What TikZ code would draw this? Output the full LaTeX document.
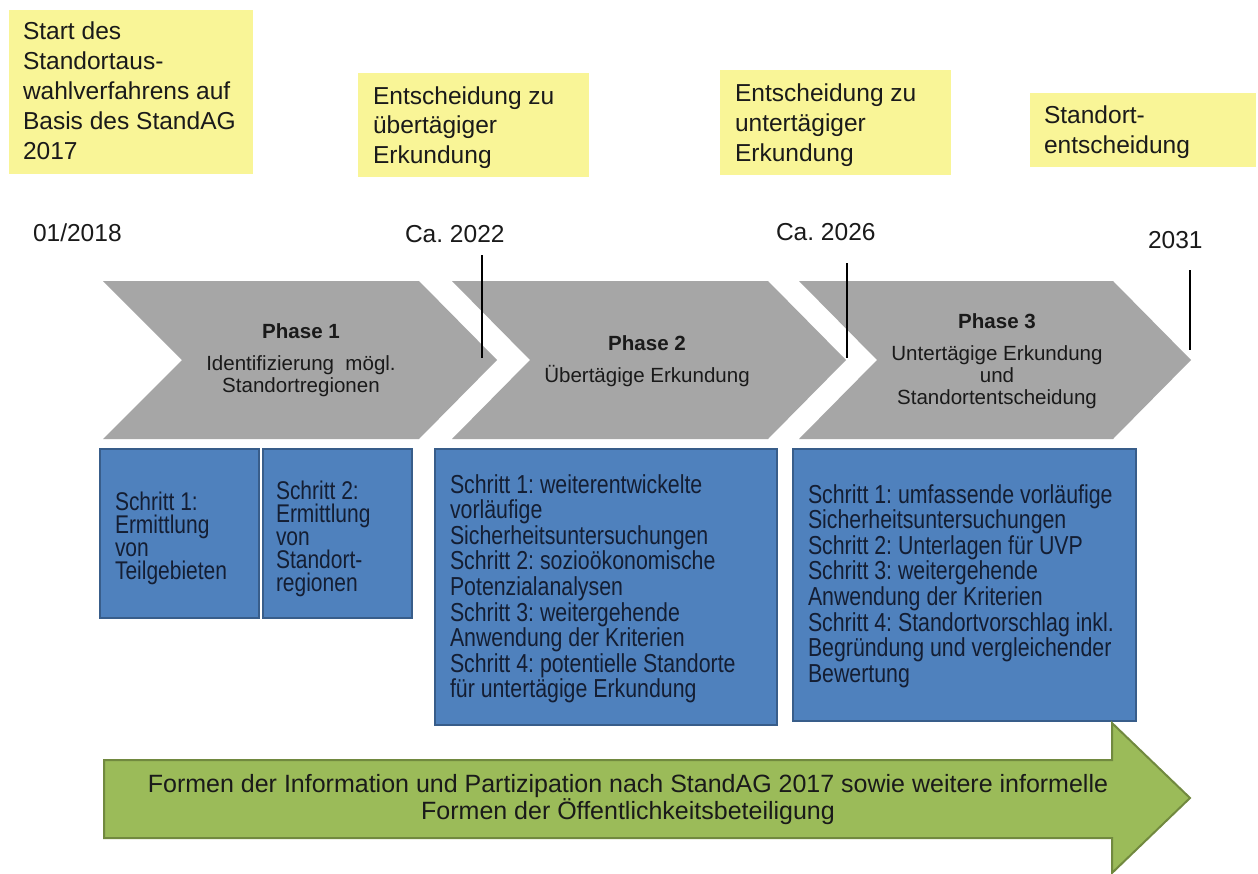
\documentclass[tikz,border=0pt]{standalone}
\usepackage{fontspec}
\setmainfont{Liberation Sans}
\newfontfamily\narrowfont[FakeStretch=0.82]{Liberation Sans}
\frenchspacing
\definecolor{yel}{HTML}{F9F597}
\definecolor{chev}{HTML}{A6A6A6}
\definecolor{bluefill}{HTML}{4F81BD}
\definecolor{blueline}{HTML}{385D8A}
\definecolor{bluetext}{HTML}{141E33}
\definecolor{greenfill}{HTML}{9BBB59}
\definecolor{greenline}{HTML}{71893F}
\definecolor{darktext}{HTML}{1A1A1A}
\newcommand\yelfont{\fontsize{18.4}{22.5}\selectfont}
\newcommand\phfont{\fontsize{15.4}{16.5}\selectfont}
\newcommand\boxfontA{\narrowfont\fontsize{19.2}{17.3}\selectfont}
\newcommand\boxfontC{\narrowfont\fontsize{19.5}{19.2}\selectfont}
\newcommand\grfont{\fontsize{18.75}{16.7}\selectfont}
\tikzset{
  yelbox/.style={fill=yel},
  chevshape/.style={fill=chev},
  bluebox/.style={fill=bluefill,draw=blueline,line width=1.5pt},
  greenarrow/.style={fill=greenfill,draw=greenline,line width=1.5pt,line join=miter},
  tick/.style={draw=black,line width=1.5pt},
  lbl/.style={inner sep=0pt,outer sep=0pt,text=darktext},
  boxlbl/.style={inner sep=0pt,outer sep=0pt,text=bluetext}
}
\begin{document}
\begin{tikzpicture}[x=0.75pt,y=-0.75pt]
\useasboundingbox (0,0) rectangle (1258,874);
\fill[white] (0,0) rectangle (1258,874);

% yellow milestone boxes
\fill[yelbox] (9,10) rectangle (253,174);
\fill[yelbox] (358,73) rectangle (589,177);
\fill[yelbox] (720,70) rectangle (951,175);
\fill[yelbox] (1030,93) rectangle (1256,167);
\node[lbl,anchor=base west] (y1) at (23,40) {\parbox[t]{240pt}{\raggedright\yelfont Start des\\Standortaus-\\wahlverfahrens auf\\Basis des StandAG\\2017}};
\node[lbl,anchor=base west] (y2) at (373,104) {\parbox[t]{200pt}{\raggedright\yelfont Entscheidung zu\\übertägiger\\Erkundung}};
\node[lbl,anchor=base west] (y3) at (735,102) {\parbox[t]{200pt}{\raggedright\yelfont Entscheidung zu\\untertägiger\\Erkundung}};
\node[lbl,anchor=base west] (y4) at (1044,123) {\parbox[t]{160pt}{\raggedright\yelfont Standort-\\entscheidung}};

% dates
\node[lbl,anchor=base west] (d1) at (33,241) {\yelfont 01/2018};
\node[lbl,anchor=base west] (d2) at (405,242) {\yelfont Ca. 2022};
\node[lbl,anchor=base west] (d3) at (776,240) {\yelfont Ca. 2026};
\node[lbl,anchor=base west] (d4) at (1148,248) {\yelfont 2031};

% chevrons
\fill[chevshape] (103,281) -- (419,281) -- (497,360) -- (419,439) -- (103,439) -- (182,360) -- cycle;
\fill[chevshape] (452,281) -- (768,281) -- (846,360) -- (768,439) -- (452,439) -- (530,360) -- cycle;
\fill[chevshape] (799,281) -- (1113,281) -- (1191,360) -- (1113,439) -- (799,439) -- (877,360) -- cycle;

% ticks
\coordinate (k1a) at (482,255); \coordinate (k1b) at (482,358);
\coordinate (k2a) at (847,263); \coordinate (k2b) at (847,358);
\coordinate (k3a) at (1190,270); \coordinate (k3b) at (1190,350);
\draw[tick] (k1a) -- (k1b);
\draw[tick] (k2a) -- (k2b);
\draw[tick] (k3a) -- (k3b);

% phase texts
\node[lbl,anchor=base] (p1) at (301,338) {\parbox[t]{220pt}{\centering\phfont\textbf{Phase 1}\\[7.5pt]Identifizierung\ \ mögl.\\Standortregionen}};
\node[lbl,anchor=base] (p2) at (647,350) {\parbox[t]{220pt}{\centering\phfont\textbf{Phase 2}\\[7.5pt]Übertägige Erkundung}};
\node[lbl,anchor=base] (p3) at (997,328) {\parbox[t]{220pt}{\centering\phfont\textbf{Phase 3}\\[7.5pt]Untertägige Erkundung\\und\\Standortentscheidung}};

% blue step boxes
\draw[bluebox] (100,449) rectangle (259,618);
\draw[bluebox] (263,449) rectangle (412,618);
\draw[bluebox] (435,449) rectangle (777,725);
\draw[bluebox] (793,449) rectangle (1136,721);
\node[boxlbl,anchor=base west] (s1) at (115,510) {\parbox[t]{120pt}{\raggedright\boxfontA Schritt 1:\\Ermittlung\\von\\Teilgebieten}};
\node[boxlbl,anchor=base west] (s2) at (276,499) {\parbox[t]{110pt}{\raggedright\boxfontA Schritt 2:\\Ermittlung\\von\\Standort-\\regionen}};
\node[boxlbl,anchor=base west] (s3) at (450,493) {\parbox[t]{250pt}{\raggedright\boxfontC Schritt 1: weiterentwickelte\\vorläufige\\Sicherheitsuntersuchungen\\Schritt 2: sozioökonomische\\Potenzialanalysen\\Schritt 3: weitergehende\\Anwendung der Kriterien\\Schritt 4: potentielle Standorte\\für untertägige Erkundung}};
\node[boxlbl,anchor=base west] (s4) at (808,503) {\parbox[t]{250pt}{\raggedright\boxfontC Schritt 1: umfassende vorläufige\\Sicherheitsuntersuchungen\\Schritt 2: Unterlagen für UVP\\Schritt 3: weitergehende\\Anwendung der Kriterien\\Schritt 4: Standortvorschlag inkl.\\Begründung und vergleichender\\Bewertung}};

% green participation arrow
\draw[greenarrow] (104,760) -- (1112,760) -- (1112,723) -- (1190,798) -- (1112,873) -- (1112,838) -- (104,838) -- cycle;
\node[lbl,anchor=base] (g) at (628,792) {\parbox[t]{760pt}{\centering\grfont Formen der Information und Partizipation nach StandAG 2017 sowie weitere informelle\\Formen der Öffentlichkeitsbeteiligung}};
\end{tikzpicture}
\end{document}
